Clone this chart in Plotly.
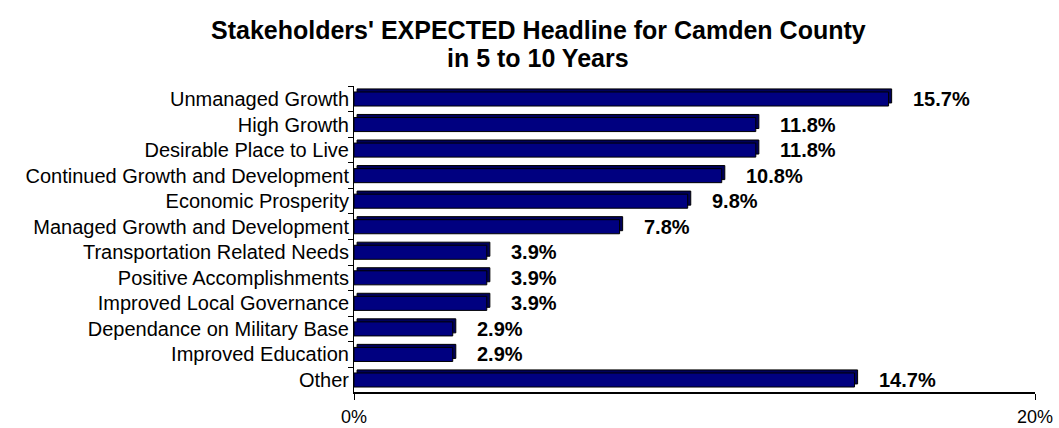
import plotly.graph_objects as go

# Survey results: expected headline for Camden County in 5-10 years
categories = [
    "Unmanaged Growth",
    "High Growth",
    "Desirable Place to Live",
    "Continued Growth and Development",
    "Economic Prosperity",
    "Managed Growth and Development",
    "Transportation Related Needs",
    "Positive Accomplishments",
    "Improved Local Governance",
    "Dependance on Military Base",
    "Improved Education",
    "Other",
]
percent = [15.7, 11.8, 11.8, 10.8, 9.8, 7.8, 3.9, 3.9, 3.9, 2.9, 2.9, 14.7]
value_labels = ["15.7%", "11.8%", "11.8%", "10.8%", "9.8%", "7.8%",
                "3.9%", "3.9%", "3.9%", "2.9%", "2.9%", "14.7%"]
x_tick_vals = [0, 20]
x_tick_text = ["0%", "20%"]
title_lines = ["Stakeholders' EXPECTED Headline for Camden County",
               "in 5 to 10 Years"]

FONT = "Liberation Sans, Arial, sans-serif"
NAVY = "#000080"
BAR_W = 0.55
DEPTH_X = 0.09   # extrusion depth along the value axis
DEPTH_Y = 0.12   # extrusion depth along the category axis

fig = go.Figure()

# Extruded back face (gives the bars their 3-D look)
fig.add_trace(go.Bar(
    y=categories, x=percent, base=DEPTH_X, orientation="h",
    width=BAR_W, offset=-BAR_W / 2 - DEPTH_Y,
    marker=dict(color="#00005a", line=dict(color="black", width=1)),
    hoverinfo="skip", showlegend=False,
))

# Front face of the bars
fig.add_trace(go.Bar(
    y=categories, x=percent, orientation="h",
    width=BAR_W, offset=-BAR_W / 2,
    marker=dict(color=NAVY, line=dict(color="black", width=1)),
    showlegend=False,
))

for cat, val, lab in zip(categories, percent, value_labels):
    fig.add_annotation(
        x=val, y=cat, text=f"<b>{lab}</b>", showarrow=False,
        xanchor="left", yanchor="middle", xshift=22,
        font=dict(family=FONT, size=20, color="black"),
    )

# Two-line chart title
for i, line in enumerate(title_lines):
    fig.add_annotation(
        xref="paper", yref="paper", x=(538 - 354) / (1059 - 354 - 24),
        y=1, yshift=56 - 28 * i, yanchor="middle", xanchor="center",
        text=f"<b>{line}</b>", showarrow=False,
        font=dict(family=FONT, size=25, color="black"),
    )

# Floor line along the bottom of the plot area
fig.add_shape(
    type="line", xref="paper", yref="paper",
    x0=0, x1=1, y0=0, y1=0,
    line=dict(color="black", width=2), layer="above",
)

fig.update_layout(
    width=1059, height=428,
    margin=dict(l=354, r=24, t=86, b=35, autoexpand=False),
    paper_bgcolor="white", plot_bgcolor="white",
    barmode="overlay",
    font=dict(family=FONT, color="black"),
    xaxis=dict(
        range=[0, 20], tickvals=x_tick_vals, ticktext=x_tick_text,
        showgrid=False, zeroline=False, automargin=False,
        showline=True, linecolor="black", linewidth=1,
        ticks="outside", ticklen=6, tickcolor="black",
        tickfont=dict(family=FONT, size=18, color="black"),
        ticklabelstandoff=1,
    ),
    yaxis=dict(
        categoryorder="array", categoryarray=categories,
        autorange="reversed", automargin=False,
        showgrid=False, zeroline=False,
        showline=True, linecolor="black", linewidth=1,
        ticks="outside", ticklen=5, tickcolor="black",
        tickson="boundaries",
        tickfont=dict(family=FONT, size=20, color="black"),
    ),
)

fig.write_html("out.html")
